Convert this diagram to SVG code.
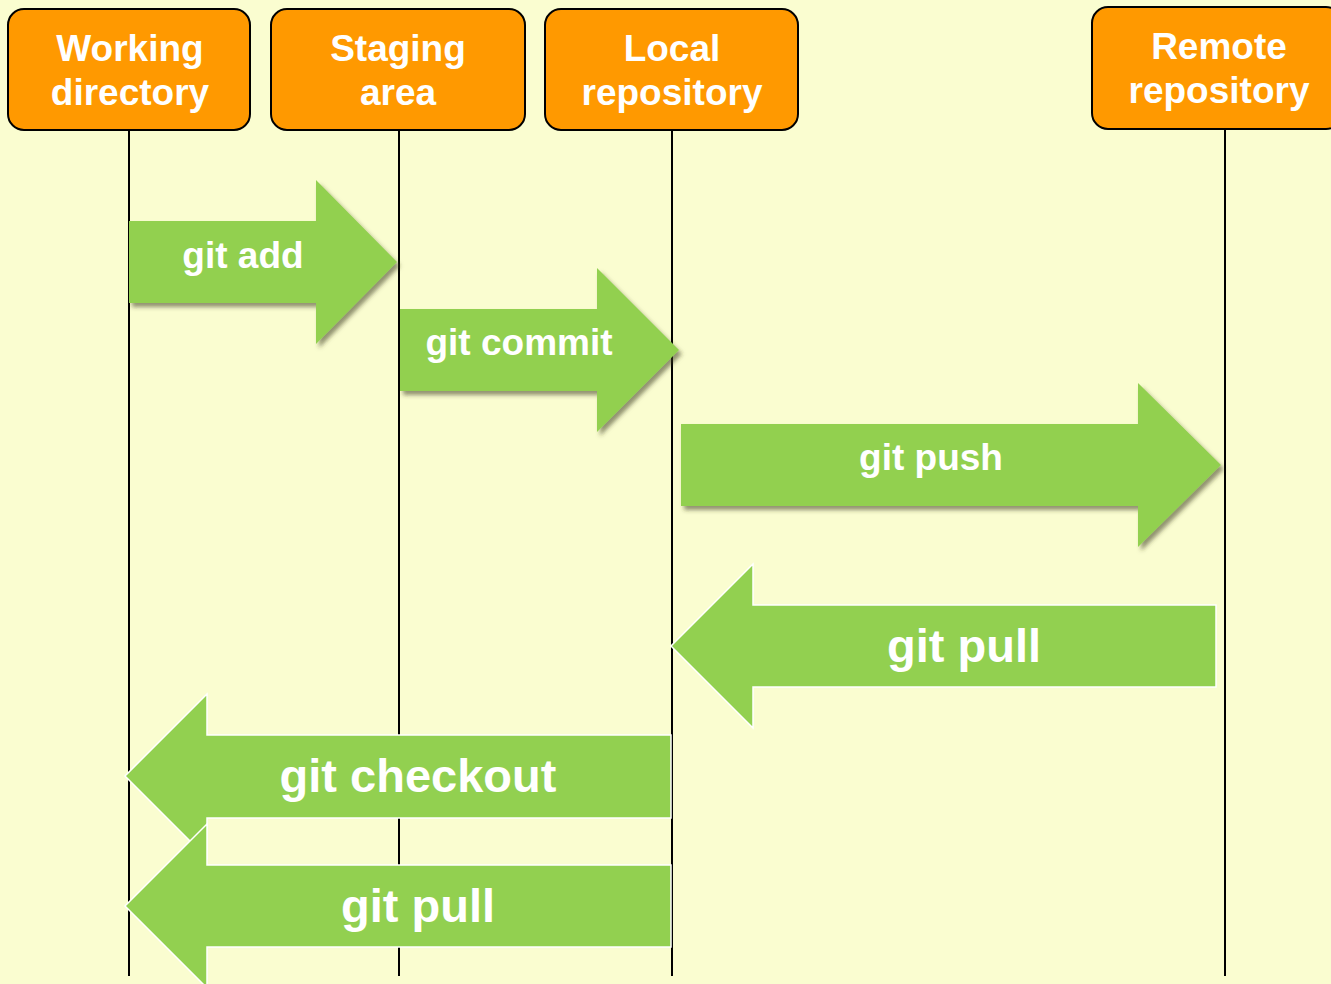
<svg xmlns="http://www.w3.org/2000/svg" width="1331" height="984" viewBox="0 0 1331 984">
  <defs>
    <style>
      .bg { fill: #FAFDD0; }
      .box { fill: #FF9900; stroke: #000; stroke-width: 2; }
      .head { font-family: "Liberation Sans", Arial, sans-serif; font-weight: bold; font-size: 37px; fill: #fff; text-anchor: middle; }
      .life { stroke: #000; stroke-width: 2; fill: none; }
      .fwd { fill: #92D050; filter: url(#shadow); }
      .back { fill: #92D050; stroke: #fff; stroke-width: 1.5; stroke-linejoin: miter; }
      .lbl { font-family: "Liberation Sans", Arial, sans-serif; font-weight: bold; fill: #fff; text-anchor: middle; }
      .sm { font-size: 37px; }
      .lg { font-size: 47px; }
    </style>
    <filter id="shadow" x="-10%" y="-20%" width="130%" height="150%">
      <feDropShadow dx="3" dy="4" stdDeviation="2.2" flood-color="#3a3a1a" flood-opacity="0.55"/>
    </filter>
  </defs>

  <rect class="bg" x="0" y="0" width="1331" height="984"/>

  <!-- lifelines below each store -->
  <g id="lifelines">
    <line class="life" x1="129" y1="130" x2="129" y2="976"/>
    <line class="life" x1="399" y1="130" x2="399" y2="976"/>
    <line class="life" x1="672" y1="130" x2="672" y2="976"/>
    <line class="life" x1="1225" y1="129" x2="1225" y2="976"/>
  </g>

  <!-- store headers -->
  <g id="working-directory">
    <rect class="box" x="8" y="9" width="242" height="121" rx="16"/>
    <text class="head" x="130" y="61">Working</text>
    <text class="head" x="130" y="105">directory</text>
  </g>
  <g id="staging-area">
    <rect class="box" x="271" y="9" width="254" height="121" rx="16"/>
    <text class="head" x="398" y="61">Staging</text>
    <text class="head" x="398" y="105">area</text>
  </g>
  <g id="local-repository">
    <rect class="box" x="545" y="9" width="253" height="121" rx="16"/>
    <text class="head" x="672" y="61">Local</text>
    <text class="head" x="672" y="105">repository</text>
  </g>
  <g id="remote-repository">
    <rect class="box" x="1092" y="7" width="250" height="122" rx="16"/>
    <text class="head" x="1219" y="59">Remote</text>
    <text class="head" x="1219" y="103">repository</text>
  </g>

  <!-- block arrows for each git operation -->
  <g id="connectors">
    <g id="git-add">
      <polygon class="fwd" points="129,221 316,221 316,180 397,262 316,344 316,303 129,303"/>
      <text class="lbl sm" x="243" y="268">git add</text>
    </g>
    <g id="git-commit">
      <polygon class="fwd" points="400,309 597,309 597,268 679,350 597,432 597,391 400,391"/>
      <text class="lbl sm" x="519" y="355">git commit</text>
    </g>
    <g id="git-push">
      <polygon class="fwd" points="681,424 1138,424 1138,383 1221,465 1138,547 1138,506 681,506"/>
      <text class="lbl sm" x="931" y="470">git push</text>
    </g>
    <g id="git-pull-remote">
      <polygon class="back" points="1216,605 753,605 753,564 671,646 753,728 753,687 1216,687"/>
      <text class="lbl lg" x="964" y="662">git pull</text>
    </g>
    <g id="git-checkout">
      <polygon class="back" points="671,735 207,735 207,694 125,776 207,858 207,818 671,818"/>
      <text class="lbl lg" x="418" y="792">git checkout</text>
    </g>
    <g id="git-pull-local">
      <polygon class="back" points="671,865 207,865 207,824 125,906 207,988 207,947 671,947"/>
      <text class="lbl lg" x="418" y="922">git pull</text>
    </g>
  </g>
</svg>
